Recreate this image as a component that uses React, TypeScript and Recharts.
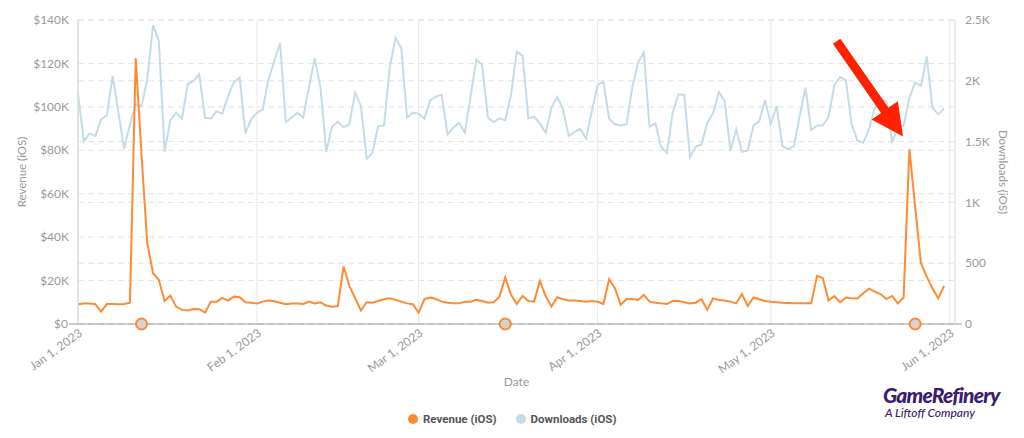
import React from 'react';
import { LineChart, Line, XAxis, YAxis, CartesianGrid, ReferenceDot, ReferenceLine, Label } from 'recharts';

// Daily values, Jan 1 2023 (day 0) to May 31 2023 (day 150)
const revenueK = [
  9.1, 9.4, 9.4, 9.1, 5.7, 9.2, 9.2, 9.1, 9.2, 9.8,
  122.5, 78, 37.2, 23.4, 20.3, 10.6, 13.1, 8.0, 6.5, 6.2,
  6.9, 6.8, 5.2, 10.3, 10.3, 12.0, 10.8, 12.6, 12.3, 10.0,
  9.8, 9.5, 10.3, 10.8, 10.5, 9.8, 9.1, 9.4, 9.4, 9.2,
  10.3, 9.5, 10.0, 8.5, 8.0, 8.3, 26.5, 17.5, 12.0, 6.2,
  10.0, 9.8, 10.6, 11.4, 11.8, 11.1, 10.3, 9.5, 9.1, 5.2,
  11.5, 12.2, 11.5, 10.3, 9.8, 9.5, 9.5, 10.3, 10.3, 11.1,
  10.6, 9.8, 10.0, 12.6, 21.5, 13.4, 9.2, 12.9, 10.6, 10.3,
  19.8, 12.9, 8.0, 12.3, 11.4, 10.8, 10.8, 10.6, 10.3, 10.6,
  10.3, 9.2, 20.6, 16.5, 8.8, 11.5, 11.5, 11.1, 13.4, 10.3,
  9.8, 9.5, 9.2, 10.6, 10.6, 10.0, 9.5, 9.8, 11.4, 6.5,
  11.8, 11.1, 10.8, 10.3, 9.5, 13.8, 8.3, 12.2, 11.4, 10.6,
  10.2, 10.0, 9.8, 9.7, 9.6, 9.5, 9.5, 9.5, 22.2, 21.1,
  10.8, 12.9, 10.0, 12.2, 11.8, 11.7, 14.2, 16.3, 14.9, 13.8,
  11.5, 12.9, 9.5, 12.2, 80.6, 54, 28, 21.8, 16.5, 11.8,
  17.5,
];

const downloads = [
  1903, 1504, 1567, 1545, 1683, 1716, 2040, 1738, 1441, 1642,
  1807, 1793, 2013, 2458, 2329, 1416, 1677, 1738, 1688, 1972,
  1999, 2054, 1697, 1688, 1749, 1730, 1875, 1991, 2027, 1567,
  1683, 1738, 1766, 2013, 2164, 2310, 1661, 1697, 1738, 1697,
  1944, 2186, 1944, 1416, 1622, 1664, 1617, 1642, 1903, 1793,
  1358, 1408, 1628, 1633, 2109, 2357, 2266, 1697, 1738, 1730,
  1688, 1840, 1870, 1884, 1559, 1614, 1655, 1573, 1875, 2173,
  2131, 1697, 1661, 1691, 1675, 1884, 2241, 2205, 1692, 1705,
  1650, 1573, 1779, 1867, 1766, 1545, 1579, 1606, 1524, 1752,
  1966, 1991, 1688, 1642, 1633, 1642, 1944, 2150, 2233, 1622,
  1650, 1455, 1408, 1738, 1889, 1884, 1372, 1458, 1477, 1655,
  1733, 1909, 1834, 1422, 1601, 1416, 1427, 1633, 1669, 1843,
  1642, 1793, 1463, 1436, 1463, 1711, 1944, 1595, 1633, 1633,
  1705, 1964, 2032, 2005, 1640, 1510, 1490, 1600, 1780, 1850,
  1830, 1500, 1610, 1630, 1860, 1986, 1958, 2200, 1779, 1724,
  1771,
];

const xTickDays = [0, 31, 59, 90, 120, 151];
const xTickLabels = ['Jan 1, 2023', 'Feb 1, 2023', 'Mar 1, 2023', 'Apr 1, 2023', 'May 1, 2023', 'Jun 1, 2023'];
const revenueTicks = [0, 20000, 40000, 60000, 80000, 100000, 120000, 140000];
const revenueTickLabels = ['$0', '$20K', '$40K', '$60K', '$80K', '$100K', '$120K', '$140K'];
const downloadTicks = [0, 500, 1000, 1500, 2000, 2500];
const downloadTickLabels = ['0', '500', '1K', '1.5K', '2K', '2.5K'];
const eventDays = [11, 74, 145];
const arrowTail = { day: 131.4, revenue: 130200 };
const arrowTip = { day: 142.9, revenue: 86300 };

const ORANGE = '#ff8a33';
const BLUE = '#c5dce6';
const TICK_COLOR = '#9a9a9a';
const FONT = 'Lato, "Open Sans", sans-serif';

const data = revenueK.map((r, i) => ({ day: i, revenue: r * 1000, downloads: downloads[i] }));

const LeftTick = (props: any) => {
  const { x, y, payload } = props;
  const i = revenueTicks.indexOf(payload.value);
  return (
    <g>
      {payload.value === 0 && <line x1={x - 1} x2={x + 8} y1={y} y2={y} stroke="#999" strokeWidth={1} />}
      <text x={payload.value === 0 ? x - 2 : x - 1} y={y} dy="0.35em" textAnchor="end" fill={TICK_COLOR} fontSize={12} fontFamily={FONT}>
        {revenueTickLabels[i]}
      </text>
    </g>
  );
};

const RightTick = (props: any) => {
  const { x, y, payload } = props;
  const i = downloadTicks.indexOf(payload.value);
  return (
    <g>
      {payload.value === 0 && <line x1={x - 10} x2={x - 3} y1={y} y2={y} stroke="#999" strokeWidth={1} />}
      <text x={x} y={y} dy="0.35em" textAnchor="start" fill={TICK_COLOR} fontSize={12} fontFamily={FONT}>
        {downloadTickLabels[i]}
      </text>
    </g>
  );
};

const BottomTick = (props: any) => {
  const { x, y, payload } = props;
  const i = xTickDays.indexOf(payload.value);
  const tx = x + 3;
  const ty = y;
  return (
    <text x={tx} y={ty} dy="0.3em" textAnchor="end" fill={TICK_COLOR} fontSize={12} fontFamily={FONT} transform={`rotate(-36, ${tx}, ${ty})`}>
      {xTickLabels[i]}
    </text>
  );
};

const Arrow = (props: any) => {
  const { x1, y1, x2, y2 } = props;
  if ([x1, y1, x2, y2].some((v) => typeof v !== 'number' || isNaN(v))) return null;
  const dx = x2 - x1;
  const dy = y2 - y1;
  const len = Math.sqrt(dx * dx + dy * dy);
  const ux = dx / len;
  const uy = dy / len;
  const nx = -uy;
  const ny = ux;
  const headLen = 32;
  const headHalf = 16;
  const shaftHalf = 4.5;
  const bx = x2 - ux * headLen;
  const by = y2 - uy * headLen;
  const pts = [
    [x1 + nx * shaftHalf, y1 + ny * shaftHalf],
    [bx + nx * shaftHalf, by + ny * shaftHalf],
    [bx + nx * headHalf, by + ny * headHalf],
    [x2, y2],
    [bx - nx * headHalf, by - ny * headHalf],
    [bx - nx * shaftHalf, by - ny * shaftHalf],
    [x1 - nx * shaftHalf, y1 - ny * shaftHalf],
  ];
  return <polygon points={pts.map((p) => p.join(',')).join(' ')} fill="#ff2200" />;
};

const LeftTitle = (props: any) => {
  const { viewBox } = props;
  const cx = viewBox.x + 22;
  const cy = viewBox.y + viewBox.height / 2;
  return (
    <text x={cx} y={cy} textAnchor="middle" dy="0.35em" fill={TICK_COLOR} fontSize={11.5} fontFamily={FONT} transform={`rotate(-90, ${cx}, ${cy})`}>
      Revenue (iOS)
    </text>
  );
};

const RightTitle = (props: any) => {
  const { viewBox } = props;
  const cx = viewBox.x + 48;
  const cy = viewBox.y + viewBox.height / 2;
  return (
    <text x={cx} y={cy} textAnchor="middle" dy="0.35em" fill={TICK_COLOR} fontSize={11.5} fontFamily={FONT} transform={`rotate(90, ${cx}, ${cy})`}>
      Downloads (iOS)
    </text>
  );
};

const BottomTitle = (props: any) => {
  const { viewBox } = props;
  const cx = viewBox.x + viewBox.width / 2;
  const cy = viewBox.y + 58;
  return (
    <text x={cx} y={cy} textAnchor="middle" dy="0.35em" fill={TICK_COLOR} fontSize={12} fontFamily={FONT}>
      Date
    </text>
  );
};

export default function App() {
  return (
    <div style={{ position: 'absolute', left: 0, top: 0, width: 1024, height: 438, background: '#fff', overflow: 'hidden' }}>
      <LineChart width={1024} height={438} data={data} margin={{ top: 20, right: 0, bottom: 0, left: 0 }}>
        <CartesianGrid yAxisId="left" vertical={false} stroke="#e3e3e3" strokeDasharray="6 4" />
        <CartesianGrid yAxisId="right" vertical={false} stroke="#e3e3e3" strokeDasharray="6 4" />
        <CartesianGrid yAxisId="left" horizontal={false} stroke="#e8e8e8" />
        <XAxis
          dataKey="day"
          type="number"
          domain={[0, 151.9]}
          ticks={xTickDays}
          height={114}
          tickLine={false}
          tickSize={6}
          tickMargin={2}
          axisLine={{ stroke: '#9a9a9a', strokeWidth: 1 }}
          tick={<BottomTick />}
          interval={0}
        >
          <Label content={<BottomTitle />} />
        </XAxis>
        <YAxis
          yAxisId="left"
          orientation="left"
          width={78}
          domain={[0, 140000]}
          ticks={revenueTicks}
          tickLine={false}
          tickSize={8}
          tickMargin={0}
          axisLine={{ stroke: '#dcdcdc', strokeWidth: 1.5 }}
          tick={<LeftTick />}
          interval={0}
        >
          <Label content={<LeftTitle />} />
        </YAxis>
        <YAxis
          yAxisId="right"
          orientation="right"
          width={69}
          domain={[0, 2500]}
          ticks={downloadTicks}
          tickLine={false}
          tickSize={7}
          tickMargin={3}
          axisLine={{ stroke: '#e3e3e3', strokeWidth: 1 }}
          tick={<RightTick />}
          interval={0}
        >
          <Label content={<RightTitle />} />
        </YAxis>
        <Line yAxisId="right" type="linear" dataKey="downloads" stroke={BLUE} strokeWidth={2} dot={false} isAnimationActive={false} />
        <Line yAxisId="left" type="linear" dataKey="revenue" stroke={ORANGE} strokeWidth={2} dot={false} isAnimationActive={false} />
        {eventDays.map((d) => (
          <ReferenceDot key={d} yAxisId="left" x={d} y={0} r={5.5} fill="#d3d3d3" stroke={ORANGE} strokeWidth={2} ifOverflow="visible" />
        ))}
        <ReferenceLine
          yAxisId="left"
          segment={[{ x: arrowTail.day, y: arrowTail.revenue }, { x: arrowTip.day, y: arrowTip.revenue }]}
          ifOverflow="visible"
          shape={<Arrow />}
        />
      </LineChart>
      <div style={{ position: 'absolute', left: 408, top: 412, display: 'flex', alignItems: 'center', fontFamily: 'Roboto, sans-serif', fontWeight: 700, fontSize: 11.5, color: '#555', whiteSpace: 'nowrap' }}>
        <span style={{ display: 'inline-block', width: 10, height: 10, borderRadius: 5, background: ORANGE, marginRight: 5 }} />
        <span style={{ marginRight: 19 }}>Revenue (iOS)</span>
        <span style={{ display: 'inline-block', width: 10, height: 10, borderRadius: 5, background: BLUE, marginRight: 5 }} />
        <span>Downloads (iOS)</span>
      </div>
      <div style={{ position: 'absolute', left: 883, top: 384, fontFamily: 'Lato, sans-serif', color: '#3b1c6e', lineHeight: 1 }}>
        <div style={{ fontSize: 21, fontWeight: 900, fontStyle: 'italic', letterSpacing: -0.8 }}>GameRefinery</div>
        <div style={{ fontSize: 12, fontStyle: 'italic', fontWeight: 500, marginTop: 2, marginLeft: 2 }}>A Liftoff Company</div>
      </div>
    </div>
  );
}
